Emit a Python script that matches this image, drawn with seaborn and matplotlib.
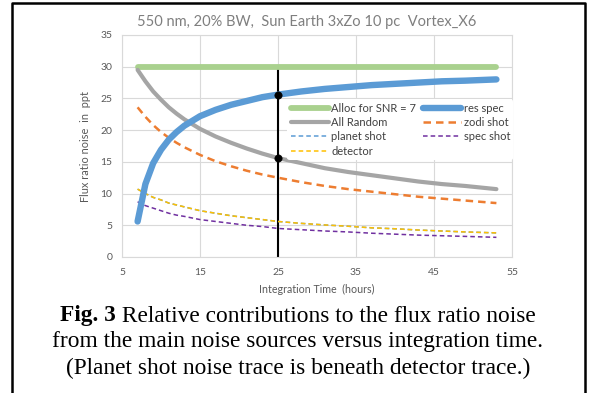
import numpy as np
import pandas as pd
import matplotlib
matplotlib.use("Agg")
import matplotlib.pyplot as plt
from matplotlib.lines import Line2D
import seaborn as sns

# ---- data ----
hours = [7, 8, 9, 10, 11, 12, 13, 15, 17, 19, 21, 23, 25, 28, 31, 34, 37, 40, 43, 46, 49, 53]
alloc = [30.0] * len(hours)
res_spec = [5.6, 11.5, 14.8, 16.9, 18.5, 19.7, 20.7, 22.2, 23.2, 24.0, 24.6, 25.2, 25.6,
            26.1, 26.5, 26.8, 27.1, 27.3, 27.5, 27.7, 27.8, 28.0]
all_random = [29.5, 27.7, 26.1, 24.8, 23.6, 22.6, 21.7, 20.2, 19.0, 18.0, 17.1, 16.3, 15.6,
              14.8, 14.0, 13.4, 12.9, 12.4, 11.9, 11.5, 11.2, 10.7]
zodi_shot = [23.6, 22.1, 20.8, 19.7, 18.8, 18.0, 17.3, 16.1, 15.1, 14.3, 13.6, 13.0, 12.5,
             11.8, 11.2, 10.7, 10.3, 9.9, 9.5, 9.2, 8.9, 8.5]
planet_shot = [10.7, 10.0, 9.4, 9.0, 8.5, 8.2, 7.9, 7.3, 6.9, 6.5, 6.2, 5.9, 5.6,
               5.3, 5.05, 4.85, 4.6, 4.45, 4.25, 4.1, 3.95, 3.8]
spec_shot = [8.7, 8.1, 7.7, 7.3, 6.9, 6.6, 6.4, 5.9, 5.6, 5.3, 5.0, 4.8, 4.5,
             4.3, 4.1, 3.95, 3.75, 3.6, 3.45, 3.35, 3.25, 3.1]
detector = [10.7, 10.0, 9.4, 9.0, 8.5, 8.2, 7.9, 7.3, 6.9, 6.5, 6.2, 5.9, 5.6,
            5.3, 5.05, 4.85, 4.6, 4.45, 4.25, 4.1, 3.95, 3.8]
marker_x = [25, 25, 25, 25]
marker_y = [0.0, 15.6, 25.6, 30.0]

x_ticks = [5, 15, 25, 35, 45, 55]
y_ticks = [0, 5, 10, 15, 20, 25, 30, 35]

title = "550 nm, 20% BW,  Sun Earth 3xZo 10 pc  Vortex_X6"
caption_bold = "Fig. 3"
caption_lines = [" Relative contributions to the flux ratio noise",
                 "from the main noise sources versus integration time.",
                 "(Planet shot noise trace is beneath detector trace.)"]

# ---- plot ----
sns.set_theme(style="white")
plt.rcParams['font.family'] = ['Lato', 'DejaVu Sans']

W, H = 590, 393
fig = plt.figure(figsize=(W / 100, H / 100), dpi=100)
ax = fig.add_axes([122 / W, 1 - 257 / H, 390 / W, 222 / H])

df = pd.DataFrame({"h": hours, "alloc": alloc, "res": res_spec, "allr": all_random,
                   "zodi": zodi_shot, "planet": planet_shot, "spec": spec_shot,
                   "det": detector})
vdf = pd.DataFrame({"x": marker_x, "y": marker_y})

# vertical marker line
sns.lineplot(data=vdf, x="x", y="y", ax=ax, color="black", linewidth=1.5, zorder=2,
             sort=False, estimator=None)
sns.scatterplot(data=vdf.iloc[1:3], x="x", y="y", ax=ax, color="black", s=28,
                zorder=6, edgecolor="black")

styles = [
    ("alloc", "Alloc for SNR = 7", "#A9D18E", 4.2, "-", 3),
    ("res", "res spec", "#5B9BD5", 4.6, "-", 4),
    ("allr", "All Random", "#A5A5A5", 3.0, "-", 3),
    ("zodi", "zodi shot", "#ED7D31", 1.8, (0, (3, 2)), 3),
    ("planet", "planet shot", "#5B9BD5", 1.1, (0, (3, 2)), 3),
    ("spec", "spec shot", "#7030A0", 1.1, (0, (3, 2)), 3),
    ("det", "detector", "#FFC000", 1.1, (0, (3, 2)), 3),
]
handles = {}
for col, lab, colr, lw, ls, z in styles:
    sns.lineplot(data=df, x="h", y=col, ax=ax, color=colr, linewidth=lw,
                 linestyle=ls, zorder=z, estimator=None)
    ax.lines[-1].set_solid_capstyle("round")
    handles[lab] = Line2D([], [], color=colr, linewidth=lw, linestyle=ls)

ax.set_xlim(5, 55)
ax.set_ylim(0, 35)
ax.set_xticks(x_ticks)
ax.set_yticks(y_ticks)
ax.grid(True, color="#D9D9D9", linewidth=0.8)
ax.set_axisbelow(True)
for s in ax.spines.values():
    s.set_color("#D9D9D9")
    s.set_linewidth(0.8)
ax.tick_params(axis="x", labelsize=7.5, colors="#595959", length=0, pad=8)
ax.tick_params(axis="y", labelsize=7.5, colors="#595959", length=0, pad=7)
ax.set_xlabel("Integration Time  (hours)", fontsize=7.7, color="#595959", labelpad=5)
ax.set_ylabel("Flux ratio noise  in  ppt", fontsize=7.9, color="#595959", labelpad=7)

order = ["Alloc for SNR = 7", "All Random", "planet shot", "detector",
         "res spec", "zodi shot", "spec shot"]
leg = ax.legend([handles[k] for k in order], order, ncol=2, loc="upper left",
                bbox_to_anchor=(0.41, 0.735), frameon=True, fontsize=8,
                handlelength=3.4, handletextpad=0.25, columnspacing=0.6,
                labelspacing=0.3, borderpad=0.3, framealpha=1)
leg.get_frame().set_edgecolor("white")
leg.get_frame().set_linewidth(0)
for t in leg.get_texts():
    t.set_color("#404040")
leg.set_zorder(5)

fig.text(307 / W, 1 - 22 / H, title, ha="center", va="center", fontsize=10.5,
         color="#7F7F7F")

# caption
cx = 298
cap_kw = dict(va="center", fontsize=16.8, family=["Liberation Serif"], color="black")
r = fig.canvas.get_renderer()
tb = fig.text(0, 1 - 316 / H, caption_bold, ha="left", fontweight="bold", **cap_kw)
t1 = fig.text(0, 1 - 316 / H, caption_lines[0], ha="left", **cap_kw)
wb = tb.get_window_extent(r).width
w1 = t1.get_window_extent(r).width
x0 = cx - (wb + w1) / 2
tb.set_x(x0 / W)
t1.set_x((x0 + wb) / W)
fig.text(cx / W, 1 - 342 / H, caption_lines[1], ha="center", **cap_kw)
fig.text(cx / W, 1 - 368 / H, caption_lines[2], ha="center", **cap_kw)

# outer border (left, top, right)
bx0, bx1, by = 12 / W, 585 / W, 1 - 2.5 / H
fig.add_artist(Line2D([bx0, bx0, bx1, bx1], [-0.01, by, by, -0.01],
                      transform=fig.transFigure, color="black", linewidth=1.8))

fig.savefig("out.png", dpi=100)
